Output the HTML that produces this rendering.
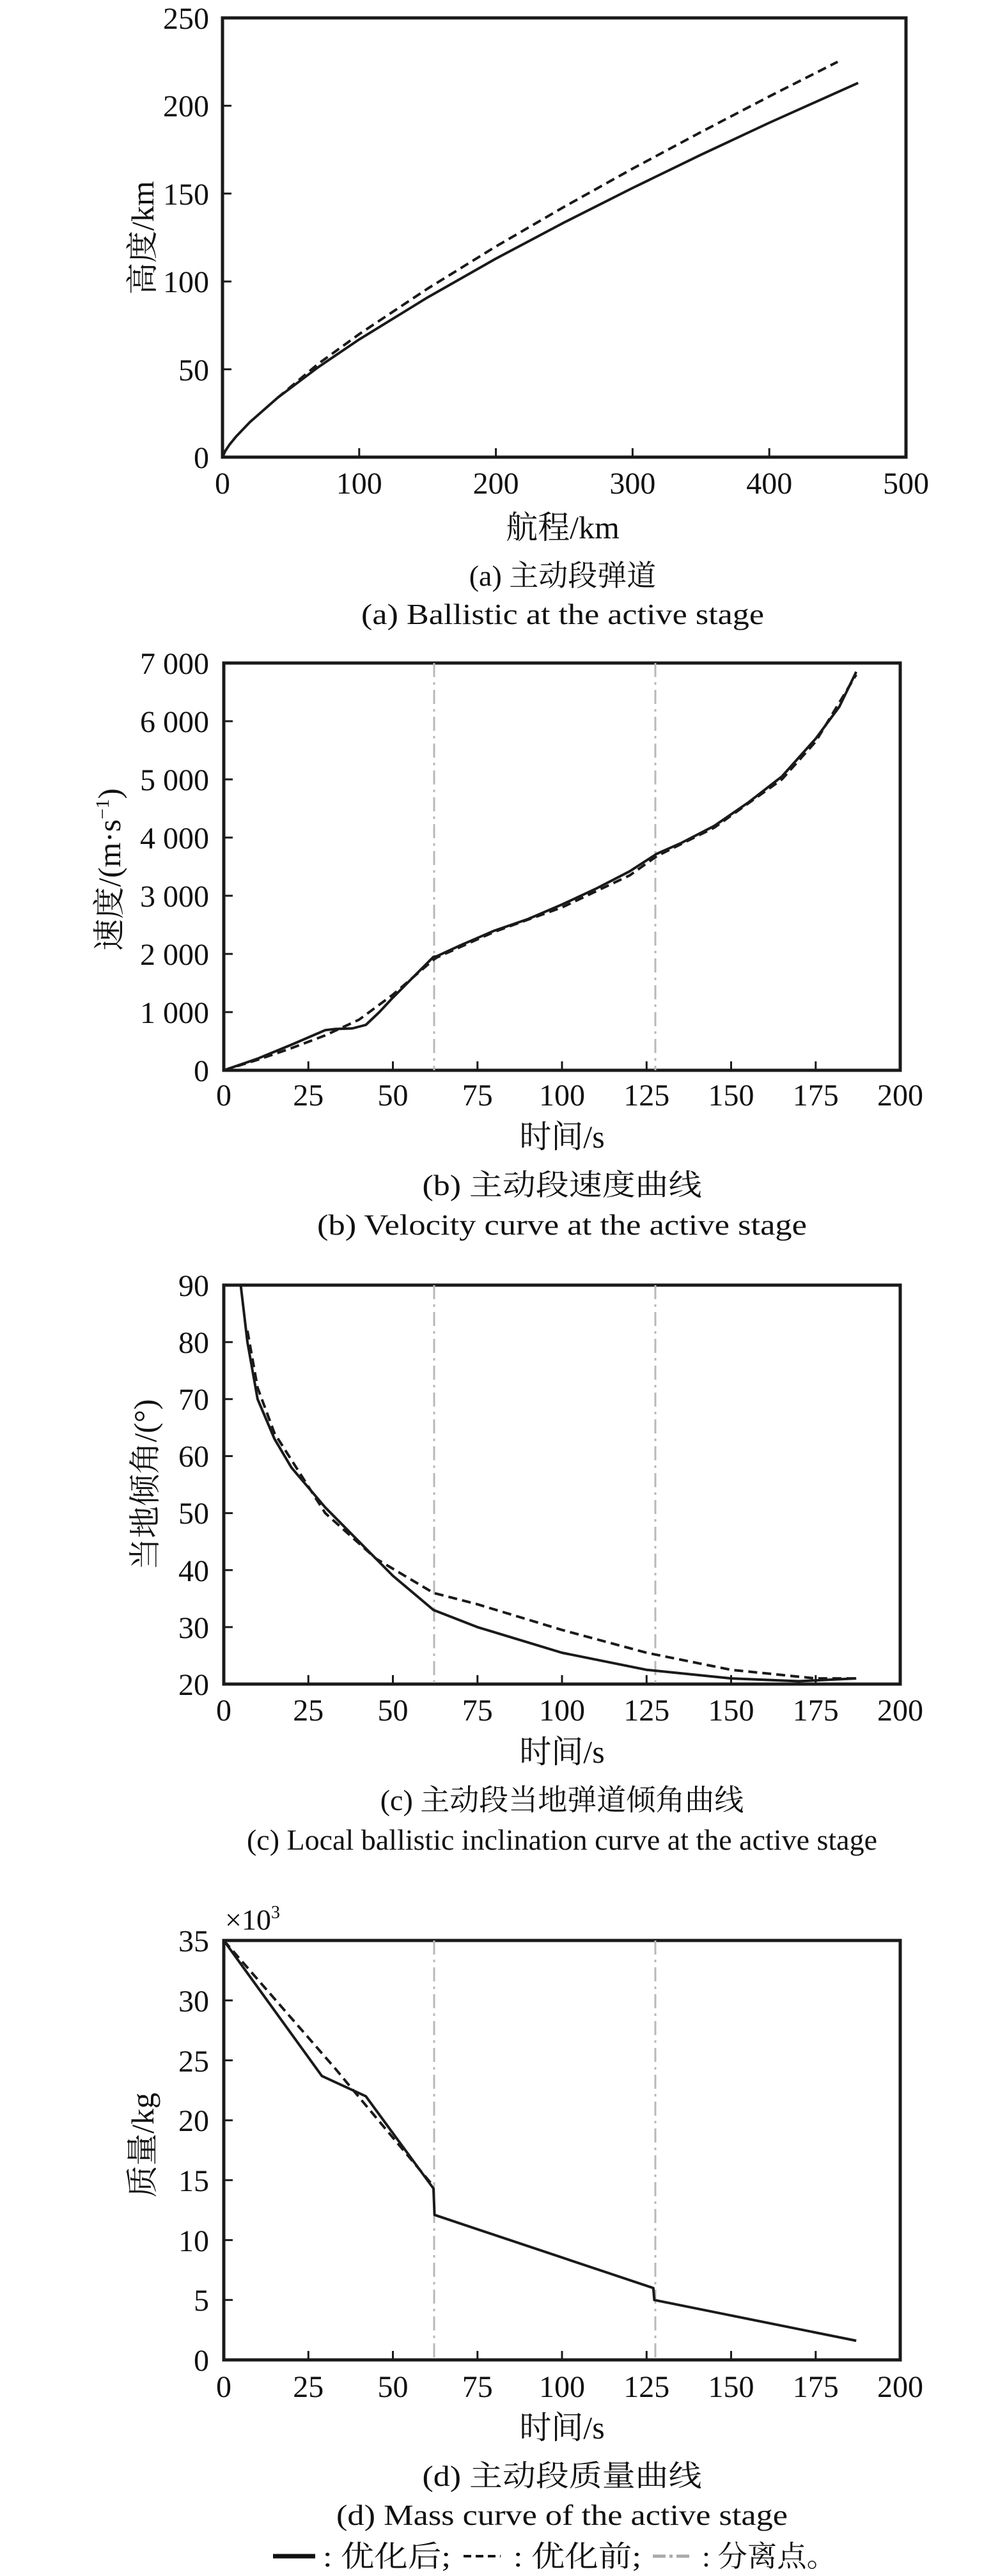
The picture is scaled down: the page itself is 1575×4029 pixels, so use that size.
<!DOCTYPE html>
<html><head><meta charset="utf-8"><style>
html,body{margin:0;padding:0;background:#fff;}
svg{display:block;}
text{font-family:"Liberation Serif","Noto Serif CJK SC","Noto Sans CJK SC",serif;fill:#111;}
</style></head><body>
<svg width="1575" height="4029" viewBox="0 0 1575 4029" xmlns="http://www.w3.org/2000/svg">
<g fill="none" stroke="#1a1a1a" stroke-width="5">
<rect x="348" y="28" width="1069" height="687"/>
<rect x="350" y="1037" width="1058" height="637"/>
<rect x="350" y="2010" width="1058" height="624"/>
<rect x="350" y="3035" width="1058" height="656"/>
</g>
<g stroke="#1a1a1a" stroke-width="3">
<path d="M561.8 715v-14M775.6 715v-14M989.4 715v-14M1203.2 715v-14M348 577.6h14M348 440.2h14M348 302.8h14M348 165.4h14"/>
<path d="M482.3 1674v-14M614.5 1674v-14M746.8 1674v-14M879 1674v-14M1011.3 1674v-14M1143.5 1674v-14M1275.8 1674v-14M350 1583h14M350 1492h14M350 1401h14M350 1310h14M350 1219h14M350 1128h14"/>
<path d="M482.3 2634v-14M614.5 2634v-14M746.8 2634v-14M879 2634v-14M1011.3 2634v-14M1143.5 2634v-14M1275.8 2634v-14M350 2544.9h14M350 2455.7h14M350 2366.6h14M350 2277.4h14M350 2188.3h14M350 2099.1h14"/>
<path d="M482.3 3691v-14M614.5 3691v-14M746.8 3691v-14M879 3691v-14M1011.3 3691v-14M1143.5 3691v-14M1275.8 3691v-14M350 3597.3h14M350 3503.6h14M350 3409.9h14M350 3316.2h14M350 3222.5h14M350 3128.8h14"/>
</g>
<g stroke="#b8b8b8" stroke-width="3" stroke-dasharray="22,8,4,8">
<path d="M679 1037V1674M1025 1037V1674M679 2010V2634M1025 2010V2634M679 3035V3691M1025 3035V3691"/>
</g>
<g fill="none" stroke="#1a1a1a" stroke-width="4" stroke-linejoin="round">
<polyline points="348,715 352.3,705.4 358.7,695.8 369.4,682.6 390.8,660.3 433.5,622.7 497.7,574.3 561.8,530.9 668.7,465.2 775.6,404.5 882.5,347.9 989.4,294 1096.3,242.1 1203.2,192 1342.2,129.7"/>
<polyline points="350,1674 402.9,1655.8 455.8,1634 508.7,1611.2 524.6,1609.4 551,1608.5 572.2,1603 593.3,1583 614.5,1560.3 646.2,1528.4 678,1496.6 683.3,1495.6 720.3,1478.4 773.2,1455.6 826.1,1437.4 879,1414.7 931.9,1390.1 984.8,1362.8 1027.1,1335.5 1064.2,1319.1 1117.1,1291.8 1170,1255.4 1222.9,1214.5 1275.8,1155.3 1312.8,1105.3 1339.2,1050.7"/>
<polyline points="350,2010 376.5,2010 387,2099.2 402.9,2188.3 429.4,2250.7 455.8,2295.3 508.7,2357.7 561.6,2411.2 614.5,2464.6 678,2518.1 746.8,2544.9 879,2585 1011.3,2611.7 1143.5,2625.1 1249.3,2629.5 1339.2,2625.1"/>
<polyline points="350,3035 503.4,3246.9 572.2,3278.7 678,3423 679.6,3464.2 1021.8,3578.6 1023.4,3597.3 1339.2,3661"/>
</g>
<g fill="none" stroke="#1a1a1a" stroke-width="4" stroke-dasharray="14,8" stroke-linejoin="round">
<polyline points="433.5,622.7 497.7,569.1 561.8,522.6 668.7,451.5 775.6,385.5 882.5,323.4 989.4,263.8 1096.3,206.6 1203.2,150.8 1310.1,96.7"/>
<polyline points="350,1674 402.9,1657.6 455.8,1639.4 508.7,1619.4 561.6,1594.8 614.5,1555.7 678,1501.1 683.3,1497.5 773.2,1457.4 879,1419.2 984.8,1369.2 1027.1,1339.1 1117.1,1294.5 1222.9,1219 1275.8,1159.9 1339.2,1055.2"/>
<polyline points="387,2081.3 402.9,2170.5 429.4,2241.8 508.7,2366.6 588.1,2437.9 678,2491.4 746.8,2509.2 879,2549.3 1011.3,2585 1143.5,2611.7 1275.8,2625.1 1339.2,2625.1"/>
<polyline points="350,3035 524.6,3235.6 551,3267.5 678,3419.3"/>
</g>
<g font-size="48" text-anchor="end">
<text x="327" y="45">250</text><text x="327" y="182">200</text><text x="327" y="320">150</text><text x="327" y="457">100</text><text x="327" y="595">50</text><text x="327" y="732">0</text>
<text x="327" y="1054">7 000</text><text x="327" y="1145">6 000</text><text x="327" y="1236">5 000</text><text x="327" y="1327">4 000</text><text x="327" y="1418">3 000</text><text x="327" y="1509">2 000</text><text x="327" y="1600">1 000</text><text x="327" y="1691">0</text>
<text x="327" y="2027">90</text><text x="327" y="2116">80</text><text x="327" y="2205">70</text><text x="327" y="2294">60</text><text x="327" y="2383">50</text><text x="327" y="2473">40</text><text x="327" y="2562">30</text><text x="327" y="2651">20</text>
<text x="327" y="3052">35</text><text x="327" y="3146">30</text><text x="327" y="3240">25</text><text x="327" y="3333">20</text><text x="327" y="3427">15</text><text x="327" y="3521">10</text><text x="327" y="3614">5</text><text x="327" y="3708">0</text>
</g>
<g font-size="48" text-anchor="middle">
<text x="348" y="772">0</text><text x="561.8" y="772">100</text><text x="775.6" y="772">200</text><text x="989.4" y="772">300</text><text x="1203.2" y="772">400</text><text x="1417" y="772">500</text>
<text x="350" y="1729">0</text><text x="482.3" y="1729">25</text><text x="614.5" y="1729">50</text><text x="746.8" y="1729">75</text><text x="879" y="1729">100</text><text x="1011.3" y="1729">125</text><text x="1143.5" y="1729">150</text><text x="1275.8" y="1729">175</text><text x="1408" y="1729">200</text>
<text x="350" y="2691">0</text><text x="482.3" y="2691">25</text><text x="614.5" y="2691">50</text><text x="746.8" y="2691">75</text><text x="879" y="2691">100</text><text x="1011.3" y="2691">125</text><text x="1143.5" y="2691">150</text><text x="1275.8" y="2691">175</text><text x="1408" y="2691">200</text>
<text x="350" y="3749">0</text><text x="482.3" y="3749">25</text><text x="614.5" y="3749">50</text><text x="746.8" y="3749">75</text><text x="879" y="3749">100</text><text x="1011.3" y="3749">125</text><text x="1143.5" y="3749">150</text><text x="1275.8" y="3749">175</text><text x="1408" y="3749">200</text>
</g>
<text x="352" y="3018" font-size="46">×10<tspan font-size="28" dy="-18">3</tspan></text>
<g font-size="50" text-anchor="middle">
<text x="880" y="842">航程/km</text>
<text x="879" y="1795">时间/s</text>
<text x="879" y="2757">时间/s</text>
<text x="879" y="3814">时间/s</text>
<text transform="translate(240,372) rotate(-90)">高度/km</text>
<text transform="translate(188,1360) rotate(-90)">速度/(m·s<tspan font-size="30" dy="-18">−1</tspan><tspan dy="18">)</tspan></text>
<text transform="translate(244,2322) rotate(-90)">当地倾角/(°)</text>
<text transform="translate(240,3355) rotate(-90)">质量/kg</text>
</g>
<g font-size="46" text-anchor="middle">
<text x="880" y="916">(a) 主动段弹道</text>
<text x="880" y="976" textLength="630" lengthAdjust="spacingAndGlyphs">(a) Ballistic at the active stage</text>
<text x="879" y="1869" textLength="437" lengthAdjust="spacingAndGlyphs">(b) 主动段速度曲线</text>
<text x="879" y="1931" textLength="766" lengthAdjust="spacingAndGlyphs">(b) Velocity curve at the active stage</text>
<text x="879" y="2831">(c) 主动段当地弹道倾角曲线</text>
<text x="879" y="2893">(c) Local ballistic inclination curve at the active stage</text>
<text x="879" y="3888" textLength="437" lengthAdjust="spacingAndGlyphs">(d) 主动段质量曲线</text>
<text x="879" y="3949" textLength="706" lengthAdjust="spacingAndGlyphs">(d) Mass curve of the active stage</text>
</g>
<line x1="427" y1="3998" x2="493" y2="3998" stroke="#111" stroke-width="7"/>
<line x1="725" y1="3998" x2="783" y2="3998" stroke="#111" stroke-width="4" stroke-dasharray="12,7"/>
<line x1="1021" y1="3998" x2="1083" y2="3998" stroke="#aaa" stroke-width="5" stroke-dasharray="20,6,5,6"/>
<g font-size="46">
<text x="505" y="4014" textLength="200" lengthAdjust="spacingAndGlyphs">: 优化后;</text>
<text x="803" y="4014" textLength="200" lengthAdjust="spacingAndGlyphs">: 优化前;</text>
<text x="1098" y="4014" textLength="210" lengthAdjust="spacingAndGlyphs">: 分离点。</text>
</g>
</svg>
</body></html>
